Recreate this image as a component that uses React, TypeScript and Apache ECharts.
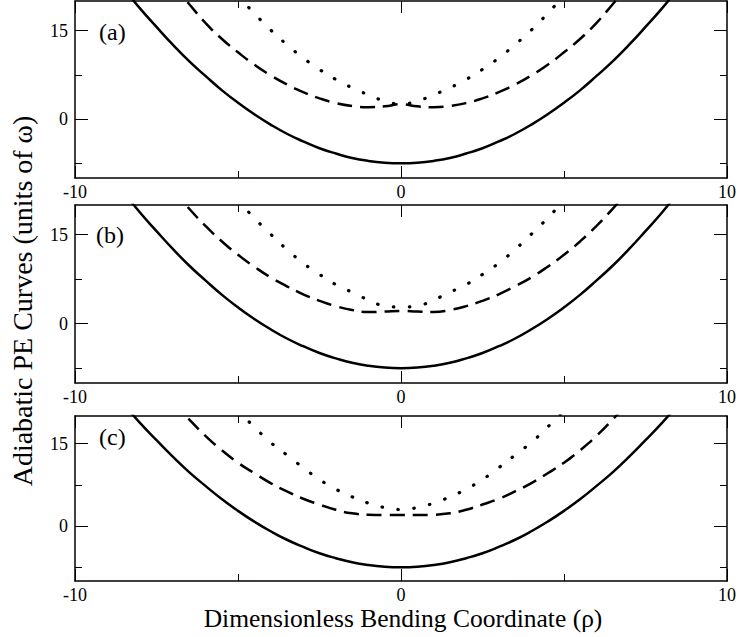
import React, { useEffect, useRef } from "react";
import * as echarts from "echarts";

// Bending coordinate samples (rho)
const rhoSolid = [-9, -8.5, -8, -7.5, -7, -6.5, -6, -5.5, -5, -4.5, -4, -3.5, -3, -2.5, -2, -1.5, -1, -0.5, 0, 0.5, 1, 1.5, 2, 2.5, 3, 3.5, 4, 4.5, 5, 5.5, 6, 6.5, 7, 7.5, 8, 8.5, 9];
const rhoDashed = [-7, -6.5, -6, -5.5, -5, -4.5, -4, -3.5, -3, -2.5, -2, -1.5, -1, -0.5, 0, 0.5, 1, 1.5, 2, 2.5, 3, 3.5, 4, 4.5, 5, 5.5, 6, 6.5, 7];
const rhoDotted = [-5, -4.5, -4, -3.5, -3, -2.5, -2, -1.5, -1, -0.5, 0, 0.5, 1, 1.5, 2, 2.5, 3, 3.5, 4, 4.5, 5];

// Panel (a)
const solidA = [25.7, 22.1, 18.7, 15.6, 12.6, 9.8, 7.3, 4.9, 2.75, 0.8, -0.95, -2.5, -3.8, -4.95, -5.85, -6.6, -7.1, -7.4, -7.5, -7.4, -7.1, -6.6, -5.85, -4.95, -3.8, -2.5, -0.95, 0.8, 2.75, 4.9, 7.3, 9.8, 12.6, 15.6, 18.7, 22.1, 25.7];
const dashedA = [22.8, 19.5, 16.3, 13.6, 11.3, 9.2, 7.4, 5.85, 4.55, 3.5, 2.7, 2.2, 2.0, 2.15, 2.5, 2.15, 2.0, 2.2, 2.7, 3.5, 4.55, 5.85, 7.4, 9.2, 11.3, 13.6, 16.3, 19.5, 22.8];
const dottedA = [20.9, 17.9, 15.1, 12.6, 10.35, 8.4, 6.7, 5.3, 4.1, 3.05, 2.55, 3.05, 4.1, 5.3, 6.7, 8.4, 10.35, 12.6, 15.1, 17.9, 20.9];

// Panel (b)
const solidB = [25.7, 22.1, 18.7, 15.6, 12.6, 9.8, 7.3, 4.9, 2.75, 0.8, -0.95, -2.5, -3.8, -4.95, -5.85, -6.6, -7.1, -7.4, -7.5, -7.4, -7.1, -6.6, -5.85, -4.95, -3.8, -2.5, -0.95, 0.8, 2.75, 4.9, 7.3, 9.8, 12.6, 15.6, 18.7, 22.1, 25.7];
const dashedB = [22.6, 19.4, 16.5, 13.9, 11.6, 9.6, 7.8, 6.3, 4.95, 3.85, 2.95, 2.3, 1.95, 2.05, 2.15, 2.05, 1.95, 2.3, 2.95, 3.85, 4.95, 6.3, 7.8, 9.6, 11.6, 13.9, 16.5, 19.4, 22.6];
const dottedB = [20.8, 17.8, 15.1, 12.5, 10.2, 8.3, 6.6, 5.3, 4.0, 3.0, 2.8, 3.0, 4.0, 5.3, 6.6, 8.3, 10.2, 12.5, 15.1, 17.8, 20.8];

// Panel (c)
const solidC = [25.7, 22.1, 18.7, 15.6, 12.6, 9.8, 7.3, 4.9, 2.75, 0.8, -0.95, -2.5, -3.8, -4.95, -5.85, -6.6, -7.1, -7.4, -7.5, -7.4, -7.1, -6.6, -5.85, -4.95, -3.8, -2.5, -0.95, 0.8, 2.75, 4.9, 7.3, 9.8, 12.6, 15.6, 18.7, 22.1, 25.7];
const dashedC = [22.6, 19.4, 16.4, 13.8, 11.5, 9.6, 7.8, 6.3, 4.95, 3.9, 2.95, 2.3, 2.05, 2.0, 2.0, 2.0, 2.05, 2.3, 2.95, 3.9, 4.95, 6.3, 7.8, 9.6, 11.5, 13.8, 16.4, 19.4, 22.6];
const dottedC = [21.0, 18.0, 15.2, 12.9, 10.6, 8.45, 6.7, 5.3, 4.15, 3.35, 3.0, 3.35, 4.15, 5.3, 6.7, 8.45, 10.6, 12.9, 15.2, 18.0, 21.0];

const panelLabels = ["(a)", "(b)", "(c)"];
const yLabelValues = [0, 15];
const yMinorValues = [-7.5, 7.5];
const xTitle = "Dimensionless Bending Coordinate (ρ)";
const yTitle = "Adiabatic PE Curves (units of ω)";

const panels = [
  { solid: solidA, dashed: dashedA, dotted: dottedA },
  { solid: solidB, dashed: dashedB, dotted: dottedB },
  { solid: solidC, dashed: dashedC, dotted: dottedC },
];

const gridTops = [1, 205, 416];
const gridHeights = [177, 178, 165];
const labelPos = [
  { x: 99, y: 32 },
  { x: 96, y: 235 },
  { x: 99, y: 437 },
];

const FONT = "Liberation Serif";

function pairs(xs: number[], ys: number[]) {
  return xs.map((x, i) => [x, ys[i]]);
}

export default function App() {
  const ref = useRef<HTMLDivElement>(null);
  useEffect(() => {
    if (!ref.current) return;
    const chart = echarts.init(ref.current, null, { renderer: "svg" });

    const grid: any[] = [];
    const xAxis: any[] = [];
    const yAxis: any[] = [];
    const series: any[] = [];
    const graphic: any[] = [];

    const lineSt = { color: "#000", width: 1.5 };
    const tickSt = { color: "#000", width: 1 };
    const labelSt = { color: "#000", fontFamily: FONT, fontSize: 18 };

    panels.forEach((p, i) => {
      grid.push({ left: 75, right: 8, top: gridTops[i], height: gridHeights[i], containLabel: false });
      ["bottom", "top"].forEach((pos) => {
        xAxis.push({
          type: "value",
          gridIndex: i,
          position: pos,
          min: -10,
          max: 10,
          interval: 10,
          axisLine: { show: true, onZero: false, lineStyle: lineSt },
          axisTick: { show: true, inside: true, length: 12, lineStyle: tickSt },
          minorTick: { show: true, splitNumber: 2, length: 7, lineStyle: tickSt },
          splitLine: { show: false },
          minorSplitLine: { show: false },
          axisLabel: {
            show: pos === "bottom",
            margin: 5,
            ...labelSt,
          },
        });
      });
      ["left", "right"].forEach((pos) => {
        yAxis.push({
          type: "value",
          gridIndex: i,
          position: pos,
          min: -10,
          max: 20,
          axisLine: { show: true, onZero: false, lineStyle: lineSt },
          axisTick: { show: true, inside: true, length: 13, lineStyle: tickSt, customValues: yLabelValues },
          splitLine: { show: false },
          axisLabel: {
            show: pos === "left",
            customValues: yLabelValues,
            margin: 7,
            ...labelSt,
          },
        });
        yAxis.push({
          type: "value",
          gridIndex: i,
          position: pos,
          min: -10,
          max: 20,
          axisLine: { show: false, onZero: false },
          axisTick: { show: true, inside: true, length: 7, lineStyle: tickSt, customValues: yMinorValues },
          splitLine: { show: false },
          axisLabel: { show: false, customValues: yMinorValues },
        });
      });
      const xi = i * 2;
      const yi = i * 4;
      series.push({
        type: "line",
        xAxisIndex: xi,
        yAxisIndex: yi,
        data: pairs(rhoSolid, p.solid),
        showSymbol: false,
        smooth: true,
        clip: true,
        lineStyle: { color: "#000", width: 2.5 },
      });
      series.push({
        type: "line",
        xAxisIndex: xi,
        yAxisIndex: yi,
        data: pairs(rhoDashed, p.dashed),
        showSymbol: false,
        smooth: true,
        clip: true,
        lineStyle: { color: "#000", width: 2.5, type: [15, 8] },
      });
      series.push({
        type: "line",
        xAxisIndex: xi,
        yAxisIndex: yi,
        data: pairs(rhoDotted, p.dotted),
        showSymbol: false,
        smooth: true,
        clip: true,
        lineStyle: { color: "#000", width: 3.2, type: [0.5, 15.5], cap: "round" },
      });
      graphic.push({
        type: "text",
        x: labelPos[i].x,
        y: labelPos[i].y,
        style: {
          text: panelLabels[i],
          fill: "#000",
          fontFamily: FONT,
          fontSize: 24,
          align: "left",
          verticalAlign: "middle",
        },
      });
    });

    graphic.push({
      type: "text",
      x: 403,
      y: 618,
      style: { text: xTitle, fill: "#000", fontFamily: FONT, fontSize: 25.5, align: "center", verticalAlign: "middle" },
    });
    graphic.push({
      type: "text",
      x: 22,
      y: 301,
      rotation: Math.PI / 2,
      style: { text: yTitle, fill: "#000", fontFamily: FONT, fontSize: 28, align: "center", verticalAlign: "middle" },
    });

    chart.setOption({
      animation: false,
      backgroundColor: "#fff",
      textStyle: { fontFamily: FONT, color: "#000" },
      grid,
      xAxis,
      yAxis,
      series,
      graphic,
    });
    return () => chart.dispose();
  }, []);
  return (
    <div
      ref={ref}
      style={{ position: "fixed", left: 0, top: 0, width: 739, height: 637, background: "#fff" }}
    />
  );
}
